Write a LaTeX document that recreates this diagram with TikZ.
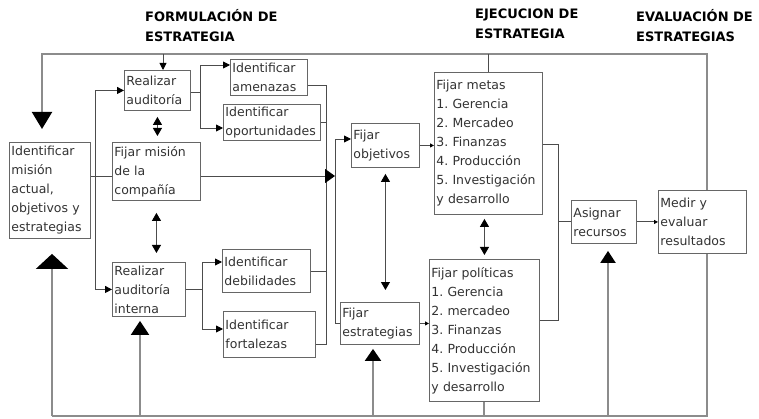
\documentclass[tikz,border=0pt]{standalone}
\usepackage{fontspec}
\setmainfont{DejaVu Sans}
\usetikzlibrary{arrows.meta}
\frenchspacing

\begin{document}
\begin{tikzpicture}[
  x=1pt, y=-1pt,
  font=\fontsize{12.5}{19}\selectfont,
  caja/.style={
    draw=black!60,
    line width=0.9pt,
    fill=white,
    anchor=north west,
    align=left,
    inner xsep=2pt,
    inner ysep=1pt,
    text=black!80
  },
  linea/.style={draw=black!70, line width=0.9pt},
  flecha/.style={linea, -{Triangle[width=7pt,length=7pt,color=black]}},
  flechita/.style={linea, -{Triangle[width=4pt,length=4pt,color=black]}},
  doble/.style={linea,
    {Triangle[width=9pt,length=8pt,color=black]}-{Triangle[width=9pt,length=8pt,color=black]}},
  lazo/.style={draw=black!45, line width=2pt},
  titulo/.style={
    anchor=north west,
    align=left,
    inner sep=0pt,
    font=\fontsize{13}{20}\selectfont\bfseries
  }
]
\useasboundingbox (0,0) rectangle (759,419);

% titulos de las etapas
\node[titulo] (tform) at (145,9) {FORMULACIÓN DE\\ESTRATEGIA};
\node[titulo] (tejec) at (475,9) {EJECUCION DE\\ESTRATEGIA};
\node[titulo] (teval) at (636,9) {EVALUACIÓN DE\\ESTRATEGIAS};

% formulacion
\node[caja, text width=77pt, minimum height=96pt] (idmision) at (9,142)
  {Identificar\\misión\\actual,\\objetivos y\\estrategias};
\node[caja, text width=62pt, minimum height=40pt] (auditoria) at (124,70)
  {Realizar\\auditoría};
\node[caja, text width=84pt, minimum height=58pt] (mision) at (112,142)
  {Fijar misión\\de la\\compañía};
\node[caja, text width=69pt, minimum height=54pt] (interna) at (112,262)
  {Realizar\\auditoría\\interna};
\node[caja, text width=73pt, minimum height=36pt] (amenazas) at (230,59)
  {Identificar\\amenazas};
\node[caja, text width=93pt, minimum height=36pt] (oport) at (223,104)
  {Identificar\\oportunidades};
\node[caja, text width=84pt, minimum height=43pt] (debil) at (222,249)
  {Identificar\\debilidades};
\node[caja, text width=88pt, minimum height=46pt] (fortal) at (223,311)
  {Identificar\\fortalezas};

% ejecucion
\node[caja, text width=64pt, minimum height=44pt] (objetivos) at (351,123)
  {Fijar\\objetivos};
\node[caja, text width=75pt, minimum height=42pt] (estrat) at (340,302)
  {Fijar\\estrategias};
\node[caja, text width=104pt, minimum height=142pt] (metas) at (434,72)
  {Fijar metas\\1. Gerencia\\2. Mercadeo\\3. Finanzas\\4. Producción\\5. Investigación\\y desarrollo};
\node[caja, text width=106pt, minimum height=142pt] (politicas) at (429,259)
  {Fijar políticas\\1. Gerencia\\2. mercadeo\\3. Finanzas\\4. Producción\\5. Investigación\\y desarrollo};
\node[caja, text width=61pt, minimum height=43pt] (asignar) at (571,200)
  {Asignar\\recursos};

% evaluacion
\node[caja, text width=84pt, minimum height=63pt] (medir) at (658,190)
  {Medir y\\evaluar\\resultados};

% lazo de arriba
\coordinate (ti) at (42,54);
\coordinate (td) at (707,54);
\coordinate (ta) at (163,54);
\draw[lazo, -{Triangle[width=20pt,length=17pt,color=black]}, shorten >=13pt]
  (td |- medir.north) |- (ti) -- (ti |- idmision.north);
\draw[flecha] (ta) -- (ta |- auditoria.north);
\draw[linea] (metas.north |- ti) -- (metas.north);

% lazo de abajo
\coordinate (bi) at (52,416);
\coordinate (bd) at (707,416);
\coordinate (b2) at (140,416);
\coordinate (b3) at (373,416);
\coordinate (b5) at (608,416);
\draw[lazo] (bd |- medir.south) -- (bd) -- (bi);
\draw[lazo, -{Triangle[width=32pt,length=15pt,color=black]}, shorten >=15pt]
  (bi) -- (bi |- idmision.south);
\draw[lazo, -{Triangle[width=18pt,length=14pt,color=black]}, shorten >=4pt]
  (b2) -- (b2 |- interna.south);
\draw[lazo, -{Triangle[width=16pt,length=12pt,color=black]}, shorten >=4pt]
  (b3) -- (b3 |- estrat.south);
\draw[lazo] (politicas.south) -- (politicas.south |- bi);
\draw[lazo, -{Triangle[width=15pt,length=12pt,color=black]}, shorten >=7pt]
  (b5) -- (b5 |- asignar.south);

% mision actual hacia auditorias
\coordinate (j1) at (95,176);
\draw[linea] (idmision.east |- j1) -- (mision.west |- j1);
\draw[flecha] (j1) |- (auditoria.west);
\draw[flecha] (j1) |- (interna.west);
\draw[doble, shorten <=6pt, shorten >=6pt] (auditoria.south) -- (auditoria.south |- mision.north);
\draw[doble, shorten <=12pt, shorten >=9pt] (mision.south) -- (mision.south |- interna.north);

% auditoria externa
\coordinate (j2) at (200,92);
\coordinate (j2a) at (200,65);
\coordinate (j2b) at (200,128);
\draw[linea] (auditoria.east |- j2) -- (j2);
\draw[flecha] (j2) |- (amenazas.west |- j2a);
\draw[flecha] (j2) |- (oport.west |- j2b);

% auditoria interna
\coordinate (j3) at (202,289);
\coordinate (j3a) at (202,262);
\coordinate (j3b) at (202,329);
\draw[linea] (interna.east |- j3) -- (j3);
\draw[flecha] (j3) |- (debil.west |- j3a);
\draw[flecha] (j3) |- (fortal.west |- j3b);

% colector hacia objetivos y estrategias
\coordinate (c1) at (326,85);
\coordinate (c2) at (326,344);
\draw[linea] (amenazas.east |- c1) -- (c1) -- (c2) -- (fortal.east |- c2);
\draw[linea] (oport.east) -- (oport.east -| c1);
\draw[linea] (debil.east) -- (debil.east -| c1);
\coordinate (d0) at (335,139);
\coordinate (d1) at (335,176);
\coordinate (d2) at (335,323);
\draw[linea, -{Triangle[width=14pt,length=10pt,color=black]}] (mision.east |- j1) -- (d1);
\draw[flecha] (d2) -- (d0) -- (objetivos.west |- d0);
\draw[linea] (d2) -- (estrat.west |- d2);
\draw[doble, shorten <=6pt, shorten >=12pt] (objetivos.south) -- (objetivos.south |- estrat.north);

% metas y politicas
\draw[flechita] (objetivos.east) -- (objetivos.east -| metas.west);
\draw[flechita] (estrat.east) -- (estrat.east -| politicas.west);
\draw[doble, shorten <=4pt, shorten >=4pt] (politicas.north) -- (politicas.north |- metas.south);
\coordinate (e1) at (558,144);
\coordinate (e2) at (558,320);
\draw[linea] (metas.east |- e1) -- (e1) -- (e2) -- (politicas.east |- e2);
\draw[linea] (asignar.west -| e1) -- (asignar.west);
\draw[flechita] (asignar.east) -- (medir.west);

\end{tikzpicture}
\end{document}
